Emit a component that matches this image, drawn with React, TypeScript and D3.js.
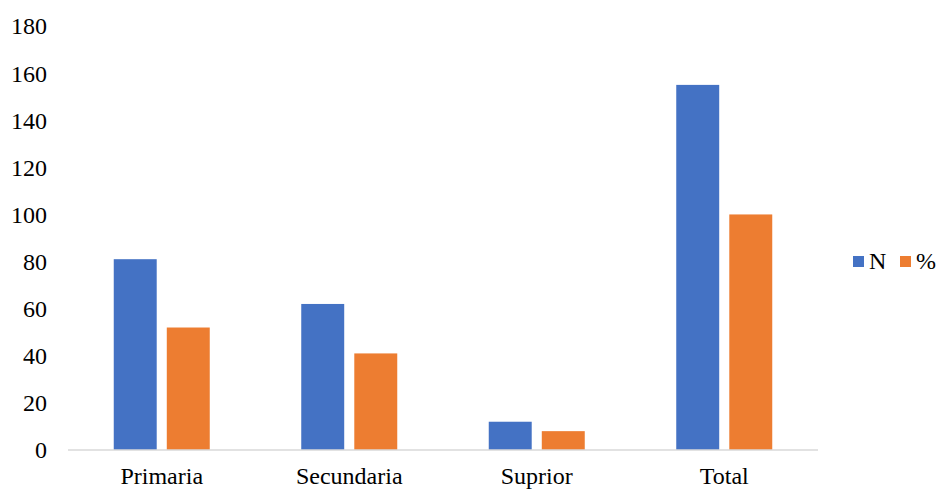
import React from "react";
import * as d3 from "d3";

const categories = ["Primaria", "Secundaria", "Suprior", "Total"];
const seriesNames = ["N", "%"];
const nValues = [81, 62, 12, 155];
const pctValues = [52, 41, 8, 100];
const yTicks = [0, 20, 40, 60, 80, 100, 120, 140, 160, 180];
const colors = ["#4472C4", "#ED7D31"];

const W = 936;
const H = 489;
const FONT = "Liberation Serif";
const FS = 24;

export default function App() {
  const series = [nValues, pctValues];
  const x0 = d3.scaleBand<string>().domain(categories).range([68, 818]);
  const groupW = 96;
  const x1 = d3.scaleBand<string>().domain(seriesNames).range([0, groupW]).paddingInner(0.19);
  const y = d3.scaleLinear().domain([0, 180]).range([450, 26]);

  return (
    <svg
      width={W}
      height={H}
      fontFamily={FONT}
      fontSize={FS}
      style={{ position: "absolute", left: 0, top: 0, background: "#fff", fontFamily: FONT }}
    >
      {yTicks.map((t) => (
        <text key={t} x={47} y={y(t)} dy="0.35em" textAnchor="end" fill="#000" style={{ fontFamily: FONT, fontSize: FS }}>
          {t}
        </text>
      ))}
      {categories.map((c, i) => {
        const gx = (x0(c) ?? 0) + (x0.bandwidth() - groupW) / 2;
        return (
          <g key={c}>
            {seriesNames.map((s, j) => (
              <rect
                key={s}
                x={gx + (x1(s) ?? 0)}
                y={y(series[j][i])}
                width={x1.bandwidth()}
                height={y(0) - y(series[j][i])}
                fill={colors[j]}
              />
            ))}
            <text
              x={(x0(c) ?? 0) + x0.bandwidth() / 2}
              y={484}
              textAnchor="middle"
              fill="#000"
              style={{ fontFamily: FONT, fontSize: FS }}
            >
              {c}
            </text>
          </g>
        );
      })}
      <line x1={68} x2={818} y1={y(0)} y2={y(0)} stroke="#d9d9d9" strokeWidth={1.5} />
      {seriesNames.map((s, j) => {
        const lx = 853 + j * 47;
        return (
          <g key={s}>
            <rect x={lx} y={256} width={11} height={11} fill={colors[j]} />
            <text x={lx + 16} y={261} dy="0.35em" fill="#000" style={{ fontFamily: FONT, fontSize: FS }}>
              {s}
            </text>
          </g>
        );
      })}
    </svg>
  );
}
